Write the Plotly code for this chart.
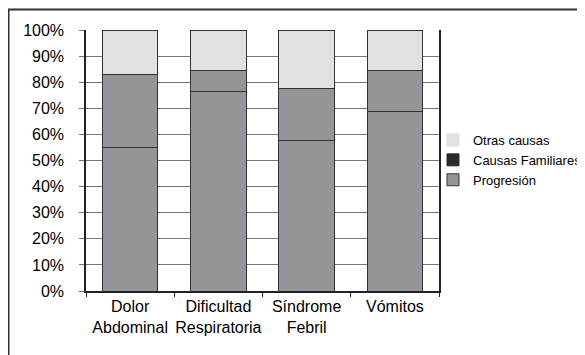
import plotly.graph_objects as go

categories = ["Dolor<br>Abdominal", "Dificultad<br>Respiratoria", "Síndrome<br>Febril", "Vómitos"]
progresion = [55, 76.3, 57.8, 68.8]
causas_familiares = [27.8, 8.2, 19.8, 15.7]
otras_causas = [17.2, 15.5, 22.4, 15.5]
y_ticks = [0, 10, 20, 30, 40, 50, 60, 70, 80, 90, 100]
y_tick_labels = [f"{v}%" for v in y_ticks]

GRAY = "#939598"
LIGHT = "#e0e1e3"
EDGE = "#333333"

fig = go.Figure()
for name, vals, col in [("Progresión", progresion, GRAY),
                        ("Causas Familiares", causas_familiares, GRAY),
                        ("Otras causas", otras_causas, LIGHT)]:
    fig.add_trace(go.Bar(x=categories, y=vals, name=name, showlegend=False,
                         marker=dict(color=col, line=dict(color=EDGE, width=1))))

# legend entries
for i, (name, col, lc) in enumerate([("Otras causas", LIGHT, LIGHT),
                                     ("Causas Familiares", "#2b2b2d", "#2b2b2d"),
                                     ("Progresión", GRAY, EDGE)]):
    fig.add_trace(go.Bar(x=[None], y=[None], name=name, showlegend=True,
                         legendgroup=f"g{i}",
                         marker=dict(color=col, line=dict(color=lc, width=1))))

fig.update_layout(
    width=585, height=355,
    barmode="stack", bargap=0.37,
    margin=dict(l=78, r=154, t=22, b=72, autoexpand=False),
    paper_bgcolor="white", plot_bgcolor="white",
    font=dict(family="Liberation Sans, Arial, sans-serif", size=16, color="black"),
    legend=dict(x=0.983, y=0.636, xanchor="left", yanchor="top", traceorder="normal",
                font=dict(family="Liberation Sans, Arial, sans-serif", size=13),
                itemwidth=30, bgcolor="rgba(0,0,0,0)", tracegroupgap=3),
    xaxis=dict(showline=True, linecolor="#222", linewidth=1.5, tickson="boundaries",
               ticks="outside", ticklen=4, tickcolor="#222", showgrid=False,
               tickangle=0, automargin=False, tickfont=dict(size=16)),
    yaxis=dict(range=[0, 100], tickvals=y_ticks, ticktext=y_tick_labels,
               showline=True, mirror=True, linecolor="#222", linewidth=1.5,
               ticks="outside", ticklen=5, tickcolor="#777", automargin=False,
               showgrid=True, gridcolor="#777", gridwidth=1,
               ticklabelstandoff=12, tickfont=dict(size=16), zeroline=False),
    shapes=[
        dict(type="line", xref="paper", yref="paper", x0=-0.221, x1=1.5, y0=1.0785, y1=1.0785,
             line=dict(color="#333", width=2)),
        dict(type="line", xref="paper", yref="paper", x0=-0.2195, x1=-0.2195, y0=1.0785, y1=-0.35,
             line=dict(color="#333", width=2)),
    ],
)

fig.write_html("out.html")
